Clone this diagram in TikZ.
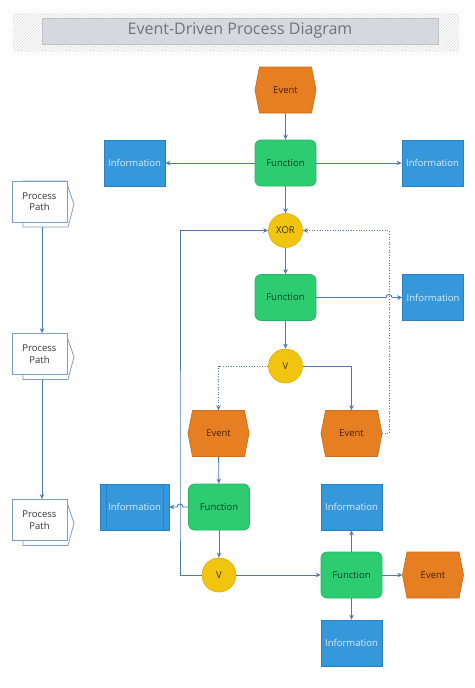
\documentclass[tikz,border=0pt]{standalone}
\usepackage{fontspec}
\setmainfont{Open Sans}
\usetikzlibrary{calc,arrows.meta,patterns}
\definecolor{evtfill}{HTML}{E67E22}
\definecolor{evtline}{HTML}{CF6F1C}
\definecolor{evttext}{HTML}{4A2106}
\definecolor{fnfill}{HTML}{2ECC71}
\definecolor{fnline}{HTML}{27B363}
\definecolor{fntext}{HTML}{0C3D20}
\definecolor{inffill}{HTML}{3498DB}
\definecolor{infline}{HTML}{2A80C0}
\definecolor{inftext}{HTML}{DCEEFA}
\definecolor{xorfill}{HTML}{F1C40F}
\definecolor{xorline}{HTML}{E0B30A}
\definecolor{xortext}{HTML}{3A3000}
\definecolor{linec}{HTML}{4F78B5}
\definecolor{ppline}{HTML}{7F9CC8}
\definecolor{titlefill}{HTML}{D5D8DC}
\definecolor{titleline}{HTML}{BDC3C7}
\definecolor{titletext}{HTML}{6E7478}
\newcommand\lbl{\fontsize{9.5}{11.5}\selectfont}
\newcommand\evnode[2]{%
  \path (#2) coordinate (tmpc);
  \filldraw[evtdraw] ($(tmpc)+(-26,-23)$) -- ($(tmpc)+(26,-23)$) -- ($(tmpc)+(30.5,0)$)
    -- ($(tmpc)+(26,23)$) -- ($(tmpc)+(-26,23)$) -- ($(tmpc)+(-30.5,0)$) -- cycle;
  \node[evtbox] (#1) at (tmpc) {Event};}
\newcommand\ppnode[2]{%
  \path (#2) coordinate (tmpp);
  \filldraw[ppdraw] ($(tmpp)+(-16.5,-20.5)$) -- ($(tmpp)+(26.5,-20.5)$) -- ($(tmpp)+(34.5,3)$)
    -- ($(tmpp)+(28.5,25.5)$) -- ($(tmpp)+(-16.5,25.5)$) -- cycle;
  \node[ppbox] (#1) at (tmpp) {Process\\Path};
  \coordinate (#1b) at ($(tmpp)+(2.5,25.5)$);}
\begin{document}
\begin{tikzpicture}[x=1pt,y=-1pt,
  evtdraw/.style={fill=evtfill,draw=evtline,line width=0.7pt},
  evtbox/.style={minimum width=61pt,minimum height=46pt,inner sep=0pt,text=evttext,font=\lbl},
  fnbox/.style={rectangle,rounded corners=6pt,fill=fnfill,draw=fnline,line width=0.7pt,
    minimum width=61pt,minimum height=46pt,inner sep=0pt,text=fntext,font=\lbl},
  infbox/.style={rectangle,fill=inffill,draw=infline,line width=0.7pt,
    minimum width=61pt,minimum height=46pt,inner sep=0pt,text=inftext,font=\lbl},
  gate/.style={circle,fill=xorfill,draw=xorline,line width=0.7pt,minimum size=34pt,
    inner sep=0pt,text=xortext,font=\lbl},
  ppdraw/.style={fill=white,draw=ppline,line width=0.8pt},
  ppbox/.style={rectangle,fill=white,draw=ppline,line width=0.8pt,minimum width=55pt,
    minimum height=41pt,inner sep=0pt,align=center,font=\lbl,text=black!80},
  conn/.style={draw=linec,line width=0.9pt,-{Stealth[length=5pt,width=4.5pt]}},
  dconn/.style={conn,dash pattern=on 1pt off 1.6pt}]
\useasboundingbox (0,0) rectangle (474,688);
% title
\path[pattern=north east lines,pattern color=black!14] (13,13) rectangle (459,51);
\node[draw=titleline,fill=titlefill,line width=0.7pt,minimum width=396pt,minimum height=26pt,
  inner sep=0pt,text=titletext,font=\fontsize{16}{19}\selectfont] (title) at (240,31)
  {Event-Driven Process Diagram};
% process paths
\ppnode{pp1}{39.5,201.5}
\ppnode{pp2}{39.5,354}
\ppnode{pp3}{39.5,520}
% main nodes
\evnode{evt1}{285.5,90}
\node[fnbox] (fn1) at (285.5,163) {Function};
\node[infbox] (inf1) at (134.5,163) {Information};
\node[infbox] (inf2) at (432.5,163) {Information};
\node[gate] (xor) at (285.5,230.5) {XOR};
\node[fnbox] (fn2) at (285.5,297.5) {Function};
\node[infbox] (inf3) at (433,297.5) {Information};
\node[gate] (v1) at (285.5,366) {V};
\evnode{evt2}{218.5,433.5}
\evnode{evt3}{351.5,433.5}
\node[fnbox] (fn3) at (219,507) {Function};
\node[infbox,minimum width=69pt] (inf4) at (134.5,507) {Information};
\draw[infline,line width=0.7pt] ([xshift=7pt]inf4.north west) -- ([xshift=7pt]inf4.south west)
  ([xshift=-6pt]inf4.north east) -- ([xshift=-6pt]inf4.south east);
\node[gate] (v2) at (219,575) {V};
\node[fnbox] (fn4) at (351.5,575) {Function};
\node[infbox] (inf5) at (351.5,507) {Information};
\node[infbox] (inf6) at (351.5,643) {Information};
\evnode{evt4}{433,575}
\coordinate (hop1) at (389,297.5);
\coordinate (hop2) at (180,507);
% connectors
\draw[conn] (evt1) -- (fn1);
\draw[conn] (fn1) -- (inf1);
\draw[conn] (fn1) -- (inf2);
\draw[conn] (fn1) -- (xor);
\draw[conn] (xor) -- (fn2);
\draw[conn] (fn2.east) -- ([xshift=-3pt]hop1) arc[start angle=180,end angle=0,radius=3pt] -- (inf3.west);
\draw[conn] (fn2) -- (v1);
\draw[conn] (v1.east) -| (evt3.north);
\draw[dconn] (v1.west) -| (evt2.north);
\draw[dconn] (evt3.east) -| (hop1) |- (xor.east);
\draw[conn] (evt2) -- (fn3);
\draw[conn] (fn3.west) -- ([xshift=3pt]hop2) arc[start angle=0,end angle=180,radius=3pt] -- (inf4.east);
\draw[conn] (fn3) -- (v2);
\draw[conn] (v2.west) -| (hop2) |- (xor.west);
\draw[conn] (v2) -- (fn4);
\draw[conn] (fn4) -- (inf5);
\draw[conn] (fn4) -- (inf6);
\draw[conn] (fn4) -- (evt4.west);
\draw[conn] (pp1b) -- (pp1b |- pp2.north);
\draw[conn] (pp2b) -- (pp2b |- pp3.north);
\end{tikzpicture}
\end{document}
